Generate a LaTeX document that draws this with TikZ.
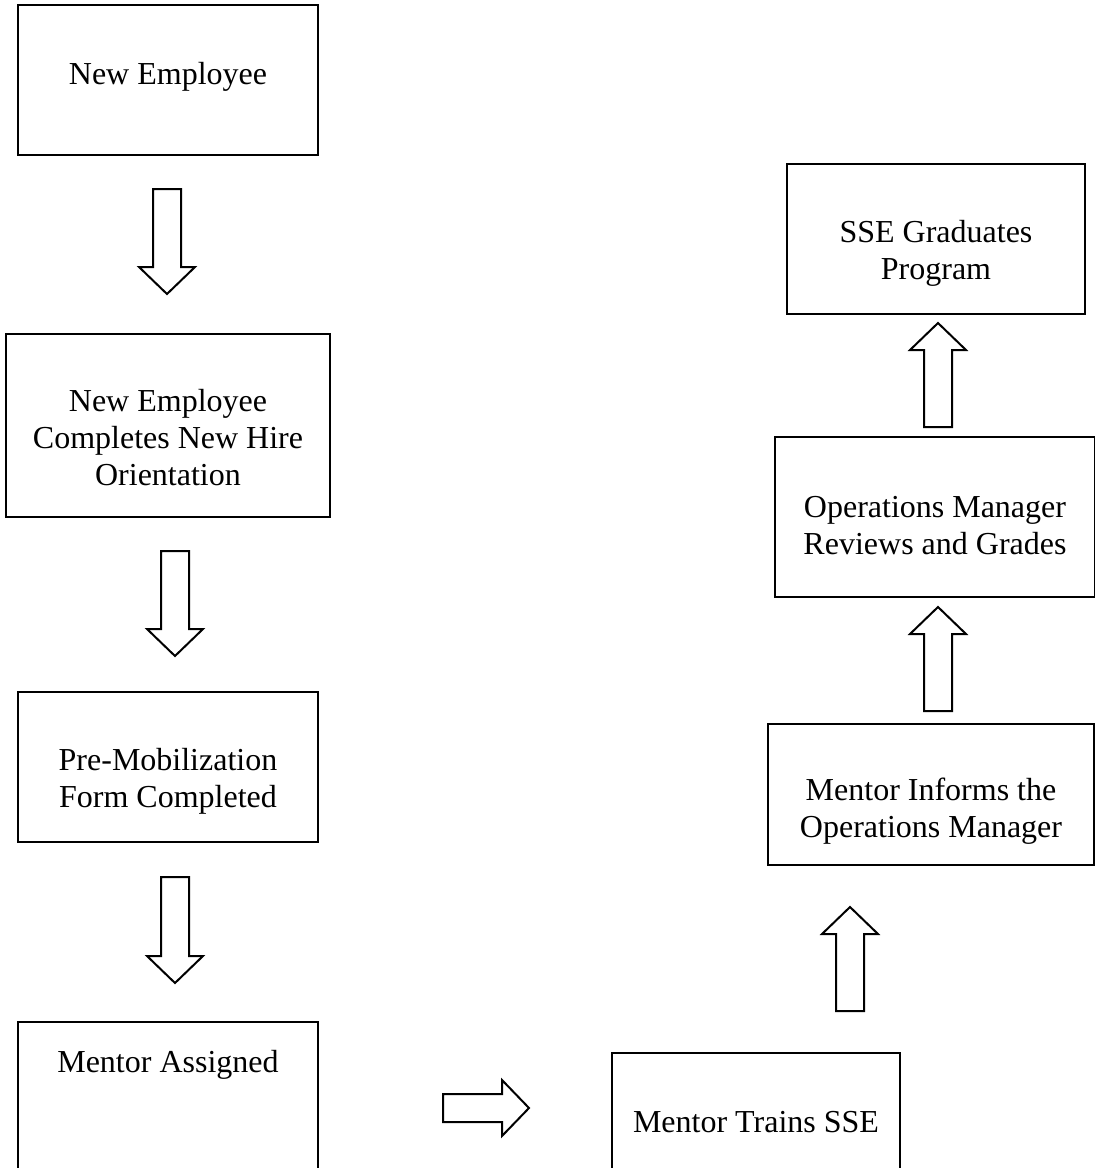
\documentclass[tikz,border=0pt]{standalone}
\usepackage{fontspec}
\setmainfont{Liberation Serif}
\usetikzlibrary{calc}
\newcommand\stacklines[1]{\begin{tabular}[t]{@{}c@{}}#1\end{tabular}}
\newcommand\blockarr[2]{%
  \coordinate (#1n) at ($(#2)!13.5pt!(#1)$);
  \draw[blockarrow] ($(#1)!7pt!90:(#2)$) -- ($(#1n)!7pt!90:(#2)$) -- ($(#1n)!14pt!90:(#2)$) -- (#2)
    -- ($(#1n)!14pt!-90:(#2)$) -- ($(#1n)!7pt!-90:(#2)$) -- ($(#1)!7pt!-90:(#2)$) -- cycle;}
\begin{document}
\begin{tikzpicture}[x=0.5pt,y=-0.5pt,
  flowbox/.style={draw, line width=1pt, inner xsep=0pt, inner ysep=0pt, outer sep=0pt,
    anchor=north, font=\fontsize{16pt}{18.5pt}\selectfont},
  blockarrow/.style={draw, line width=1pt, fill=white, line join=miter}]
\fill[white] (0,0) rectangle (1095,1168);
\useasboundingbox (0,0) rectangle (1095,1168);
% boxes
\node[flowbox, minimum width=150pt, text height=39.5pt, text depth=35.5pt] (b1) at (168,5) {\stacklines{New Employee}};
\node[flowbox, minimum width=162pt, text height=38.5pt, text depth=53pt] (b2) at (168,334) {\stacklines{New Employee\\Completes New Hire\\Orientation}};
\node[flowbox, minimum width=150pt, text height=39pt, text depth=36pt] (b3) at (168,692) {\stacklines{Pre-Mobilization\\Form Completed}};
\node[flowbox, minimum width=150pt, text height=25pt, text depth=64pt] (b4) at (168,1022) {\stacklines{Mentor Assigned}};
\node[flowbox, minimum width=144pt, text height=39.5pt, text depth=34pt] (b5) at (756,1053) {\stacklines{Mentor Trains SSE}};
\node[flowbox, minimum width=163pt, text height=38pt, text depth=32.5pt] (b6) at (931,724) {\stacklines{Mentor Informs the\\Operations Manager}};
\node[flowbox, minimum width=160pt, text height=40pt, text depth=40pt] (b7) at (935,437) {\stacklines{Operations Manager\\Reviews and Grades}};
\node[flowbox, minimum width=149pt, text height=39pt, text depth=36pt] (b8) at (936,164) {\stacklines{SSE Graduates\\Program}};
% arrow ends
\coordinate (a1s) at (167,189); \coordinate (a1e) at (167,294);
\coordinate (a2s) at (175,551); \coordinate (a2e) at (175,656);
\coordinate (a3s) at (175,877); \coordinate (a3e) at (175,983);
\coordinate (a4s) at (443,1108); \coordinate (a4e) at (529,1108);
\coordinate (a5s) at (850,1011); \coordinate (a5e) at (850,907);
\coordinate (a6s) at (938,711); \coordinate (a6e) at (938,607);
\coordinate (a7s) at (938,427); \coordinate (a7e) at (938,323);
\blockarr{a1s}{a1e}
\blockarr{a2s}{a2e}
\blockarr{a3s}{a3e}
\blockarr{a4s}{a4e}
\blockarr{a5s}{a5e}
\blockarr{a6s}{a6e}
\blockarr{a7s}{a7e}
\end{tikzpicture}
\end{document}
